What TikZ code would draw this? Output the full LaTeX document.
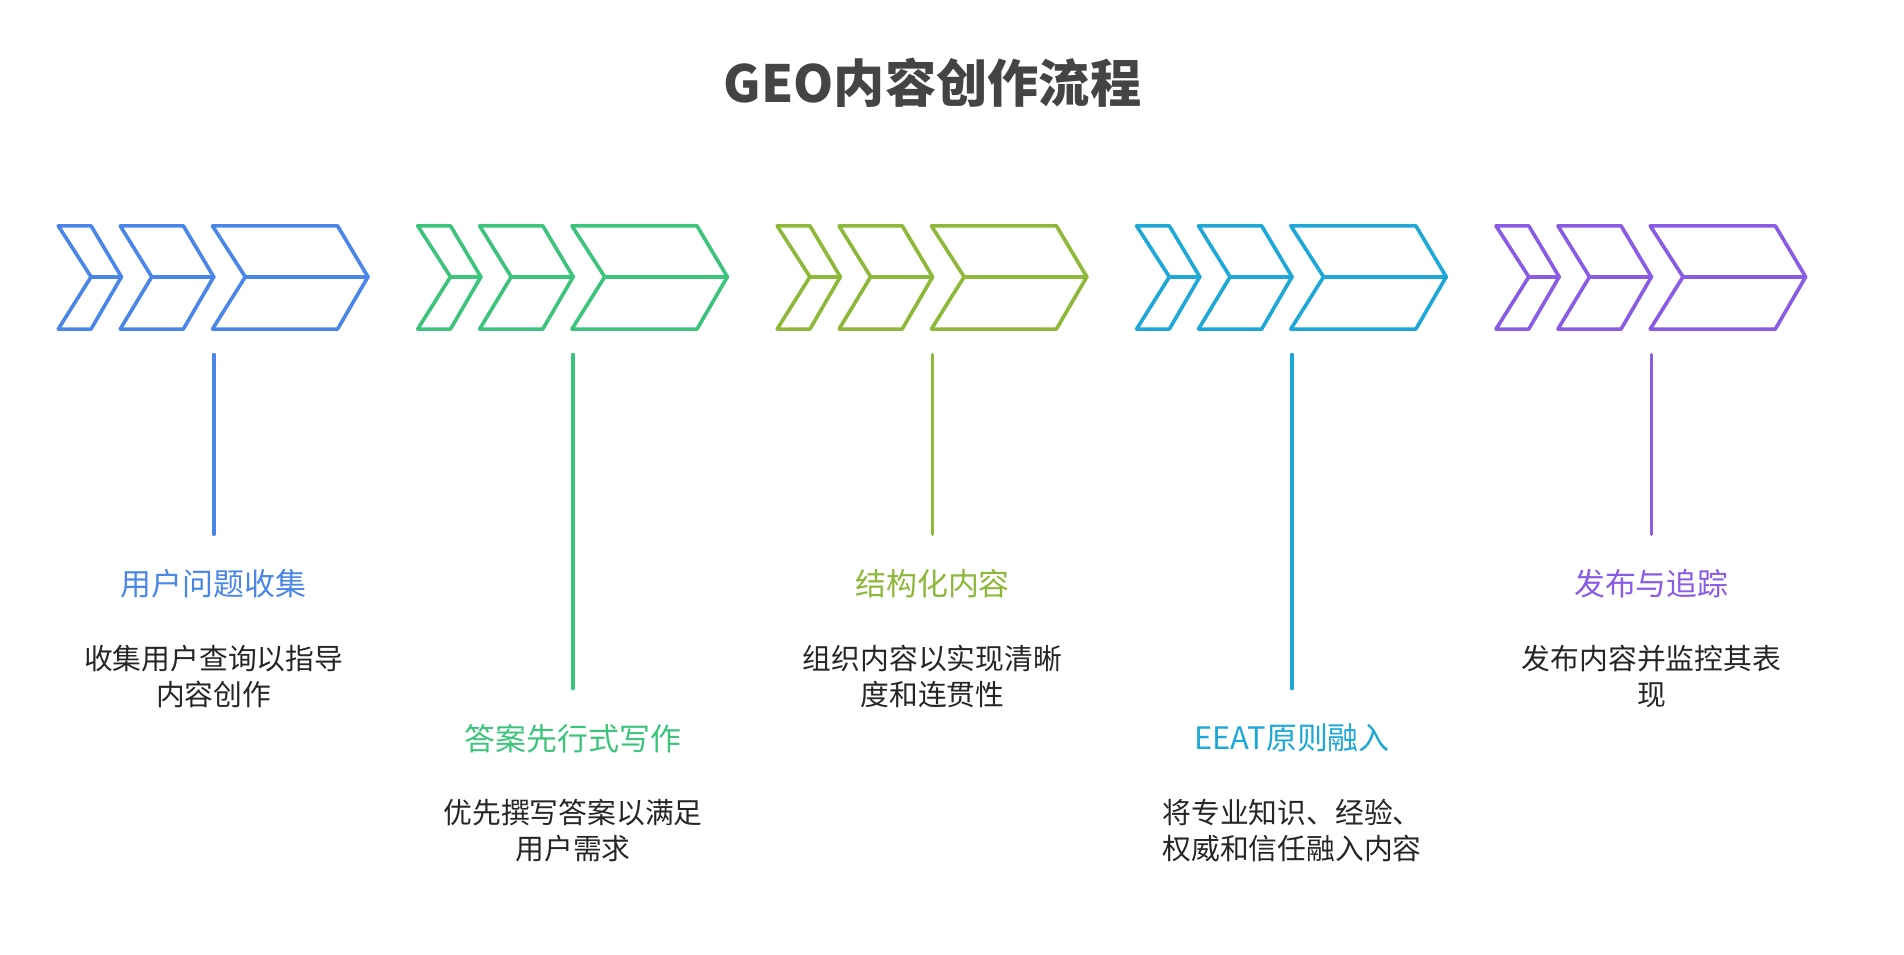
\documentclass[tikz,border=0pt]{standalone}
\usepackage{fontspec}
\setmainfont{Noto Sans CJK SC}
\usetikzlibrary{positioning}
\definecolor{cblue}{HTML}{4A86E8}
\definecolor{cgreen}{HTML}{3CC47C}
\definecolor{colive}{HTML}{8DB83A}
\definecolor{ccyan}{HTML}{1EA8D8}
\definecolor{cpurple}{HTML}{8A5CE6}
\definecolor{ctitle}{HTML}{444444}
\tikzset{
  chev/.style={line width=1.7pt, line join=round, line cap=round},
  headtext/.style={font=\fontsize{14.5}{17}\selectfont, anchor=center},
  desctext/.style={font=\fontsize{13.5}{17}\selectfont, text=black!85, align=center, anchor=north},
}
\begin{document}
\begin{tikzpicture}[x=0.02cm, y=-0.02cm]
    \useasboundingbox (0,0) rectangle (1568,786);
    % Title
    \node[font=\fontsize{24}{28}\selectfont\bfseries, text=ctitle] (title) at (768,68) {GEO内容创作流程};

    % Chevron groups with stems and texts
    \foreach \s/\col/\low/\head/\desc [count=\i] in {
        48/cblue/0/用户问题收集/{收集用户查询以指导\\内容创作},
        344/cgreen/1/答案先行式写作/{优先撰写答案以满足\\用户需求},
        640/colive/0/结构化内容/{组织内容以实现清晰\\度和连贯性},
        936/ccyan/1/EEAT原则融入/{将专业知识、经验、\\权威和信任融入内容},
        1232/cpurple/0/发布与追踪/{发布内容并监控其表\\现}} {
        \begin{scope}[xshift=\s*0.02cm, draw=\col]
            % three arrows
            \draw[chev, \col] (0,186) -- (27,186) -- (52,228) -- (27,271) -- (0,271) -- (27,228) -- cycle;
            \draw[chev, \col] (27,228) -- (52,228);
            \draw[chev, \col] (51,186) -- (103,186) -- (128,228) -- (103,271) -- (51,271) -- (77,228) -- cycle;
            \draw[chev, \col] (77,228) -- (128,228);
            \draw[chev, \col] (127,186) -- (230,186) -- (255,228) -- (230,271) -- (127,271) -- (154,228) -- cycle;
            \draw[chev, \col] (154,228) -- (255,228);
            % stem and labels
            \coordinate (top\i) at (128,292);
            \coordinate (bot\i) at (128,440+127*\low);
            \draw[chev, \col] (top\i) -- (bot\i);
            \node[headtext, text=\col] (head\i) at (128,481+127*\low) {\head};
            \node[desctext] (desc\i) at (128,525+127*\low) {\desc};
        \end{scope}
    }
\end{tikzpicture}
\end{document}
